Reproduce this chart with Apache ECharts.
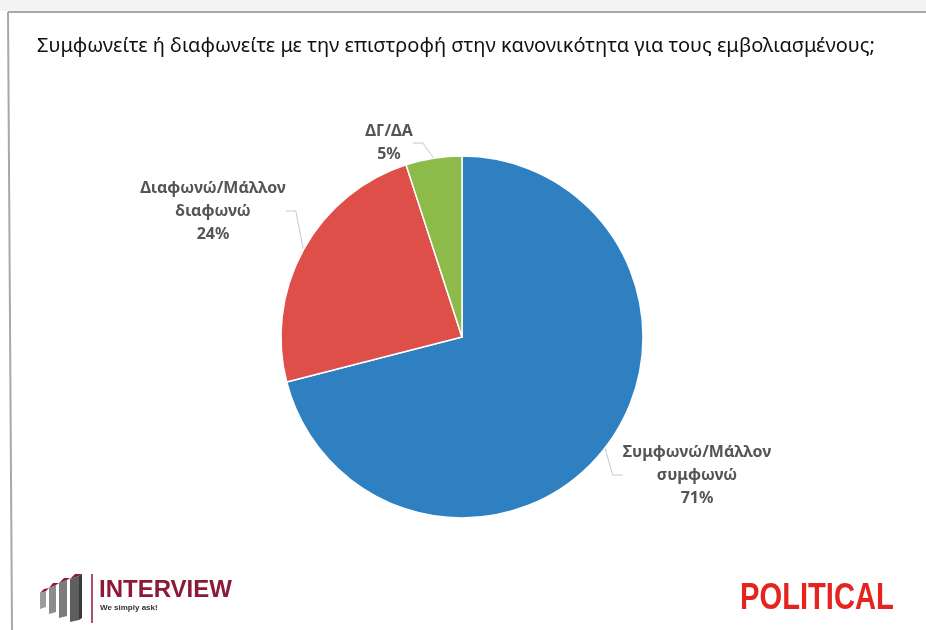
<!DOCTYPE html>
<html><head><meta charset="utf-8">
<script src="https://cdn.jsdelivr.net/npm/echarts@6/dist/echarts.min.js"></script>
<style>html,body{margin:0;padding:0;background:#fff}#c{width:926px;height:630px}</style>
</head><body><div id="c"></div>
<script>
const categories = ['Συμφωνώ/Μάλλον\nσυμφωνώ', 'Διαφωνώ/Μάλλον\nδιαφωνώ', 'ΔΓ/ΔΑ'];
const values = [71, 24, 5];
const colors = ['#2e80c1', '#df4f49', '#8dbb4a'];
const titleText = 'Συμφωνείτε ή διαφωνείτε με την επιστροφή στην κανονικότητα για τους εμβολιασμένους;';

const labelPos = [
  {x: 697, y: 475},
  {x: 213, y: 211},
  {x: 389, y: 143}
];

const chart = echarts.init(document.getElementById('c'));
chart.setOption({
  backgroundColor: '#fff',
  animation: false,
  title: {
    text: titleText, left: 32, top: 31,
    textStyle: {fontFamily: 'Noto Sans', fontSize: 20, fontWeight: 'normal', color: '#111'}
  },
  graphic: [
    {type: 'rect', shape: {x: 0, y: 0, width: 926, height: 11}, style: {fill: '#f4f4f4'}},
    {type: 'line', shape: {x1: 8, y1: 12, x2: 926, y2: 12}, style: {stroke: '#a8a8a8', lineWidth: 2}},
    {type: 'line', shape: {x1: 8, y1: 12, x2: 12, y2: 630}, style: {stroke: '#a8a8a8', lineWidth: 2}},
    // INTERVIEW logo bars (front faces)
    {type: 'polygon', shape: {points: [[40,593],[46,591],[46,607],[40,609]]}, style: {fill: '#9c9c9c'}},
    {type: 'polygon', shape: {points: [[49,588],[56,585],[56,612],[49,614]]}, style: {fill: '#8c8c8c'}},
    {type: 'polygon', shape: {points: [[59,583],[67,580],[67,616],[59,618]]}, style: {fill: '#7c7c7c'}},
    {type: 'polygon', shape: {points: [[70,579],[79,576],[79,620],[70,622]]}, style: {fill: '#5e5e5e'}},
    // tops
    {type: 'polygon', shape: {points: [[40,593],[44,589],[49,588],[46,591]]}, style: {fill: '#8b1a3a'}},
    {type: 'polygon', shape: {points: [[49,588],[53,583],[59,583],[56,585]]}, style: {fill: '#8b1a3a'}},
    {type: 'polygon', shape: {points: [[59,583],[64,578],[70,578],[67,580]]}, style: {fill: '#8b1a3a'}},
    {type: 'polygon', shape: {points: [[70,579],[75,574],[82,574],[79,576]]}, style: {fill: '#8b1a3a'}},
    {type: 'polygon', shape: {points: [[79,576],[82,574],[82,618],[79,620]]}, style: {fill: '#3a3a3a'}},
    {type: 'line', shape: {x1: 92, y1: 574, x2: 92, y2: 623}, style: {stroke: '#8b1a3a', lineWidth: 1.5}},
    {type: 'text', left: 99, top: 578, style: {text: 'INTERVIEW', font: 'bold 24px "Liberation Sans"', fill: '#8b1a3a'}},
    {type: 'text', left: 100, top: 604, style: {text: 'We simply ask!', font: 'bold 8px "Liberation Sans"', fill: '#333'}},
    {type: 'text', x: 740, y: 581, scaleX: 0.81, originX: 0, originY: 0,
     style: {text: 'POLITICAL', font: 'bold 36px "Liberation Sans"', fill: '#e52421'}}
  ],
  series: [{
    type: 'pie',
    center: [462, 337],
    radius: 181,
    startAngle: 90,
    clockwise: true,
    data: categories.map((c, i) => ({name: c, value: values[i], itemStyle: {color: colors[i]}})),
    itemStyle: {borderColor: '#fff', borderWidth: 1.5},
    label: {
      show: true, position: 'outside',
      formatter: p => p.name + '\n' + p.value + '%',
      fontFamily: 'Noto Sans', fontWeight: 'bold', fontSize: 16, lineHeight: 23,
      color: '#555', align: 'center'
    },
    labelLine: {show: true, length: 10, length2: 10, lineStyle: {color: '#c8c8c8', width: 1}},
    labelLayout: p => ({x: labelPos[p.dataIndex].x, y: labelPos[p.dataIndex].y, align: 'center', verticalAlign: 'middle'})
  }]
});
</script></body></html>
